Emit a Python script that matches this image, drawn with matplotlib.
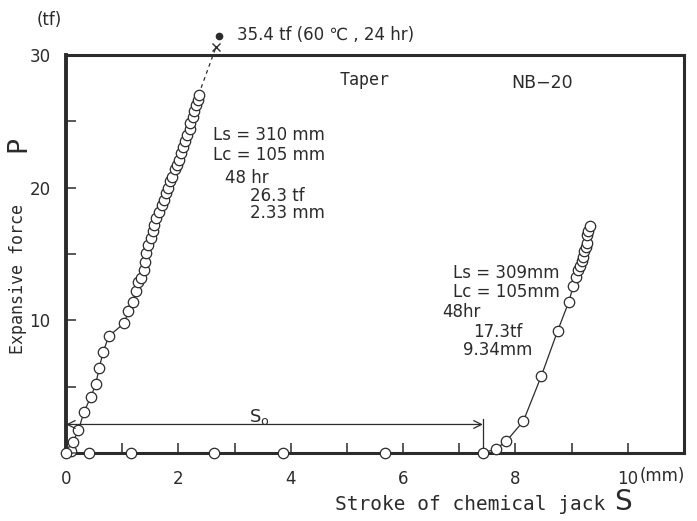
import matplotlib
matplotlib.use("Agg")
import matplotlib.pyplot as plt

# curve 1 : Ls=310mm (left)
s1 = [0.09, 0.12, 0.22, 0.32, 0.44, 0.53, 0.59, 0.66, 0.76, 1.04, 1.11, 1.19,
      1.24, 1.29, 1.33, 1.38, 1.41, 1.42, 1.46, 1.51, 1.54, 1.57, 1.61, 1.66,
      1.71, 1.74, 1.78, 1.81, 1.86, 1.88, 1.94, 1.98, 2.01, 2.05, 2.08, 2.11,
      2.15, 2.20, 2.21, 2.26, 2.28, 2.31, 2.35, 2.36]
p1 = [0.15, 0.8, 1.7, 3.1, 4.2, 5.2, 6.4, 7.6, 8.8, 9.8, 10.7, 11.4,
      12.2, 12.9, 13.2, 13.8, 14.4, 15.1, 15.7, 16.2, 16.7, 17.2, 17.7, 18.2,
      18.7, 19.1, 19.6, 20.0, 20.5, 20.8, 21.4, 21.7, 22.1, 22.6, 23.1, 23.5,
      24.0, 24.4, 24.9, 25.3, 25.8, 26.2, 26.6, 27.0]

# curve 2 : Ls=309mm (right), jack travels S0 before picking up load
s2 = [0.0, 0.41, 1.16, 2.63, 3.86, 5.68, 7.42, 7.65, 7.84, 8.14, 8.46, 8.75,
      8.95, 9.03, 9.08, 9.12, 9.15, 9.18, 9.20, 9.22, 9.25, 9.27, 9.28, 9.30, 9.32]
p2 = [0.0, 0.0, 0.0, 0.0, 0.0, 0.0, 0.0, 0.3, 0.9, 2.4, 5.8, 9.2,
      11.4, 12.6, 13.3, 13.8, 14.1, 14.5, 14.8, 15.2, 15.5, 15.8, 16.4, 16.7, 17.1]

# failure of specimen 1
break_s, break_p = 2.67, 30.6
fail_s, fail_p = 2.73, 31.4
s0 = 7.42
s0_level = 2.15

x_ticks = list(range(0, 11))
x_labels = ['0', '', '2', '', '4', '', '6', '', '8', '', '10']
y_ticks = [0, 5, 10, 15, 20, 25, 30]
y_labels = ['', '', '10', '', '20', '', '30']

ink = '#2b2b2b'
plt.rcParams['font.family'] = ['DejaVu Sans']

fig = plt.figure(figsize=(6.97, 5.21), dpi=100)
ax = fig.add_axes([66 / 697, 1 - 453 / 521, 618 / 697, 398 / 521])

mk = dict(marker='o', ms=7.5, mfc='white', mec=ink, mew=0.9, color=ink, lw=0.9, clip_on=False)
ax.plot(s1, p1, **mk, zorder=3)
ax.plot(s2, p2, **mk, zorder=3)

# dashed extension up to failure
ax.plot([s1[-1], break_s], [p1[-1], break_p], ls=(0, (3, 3)), color=ink, lw=0.9, clip_on=False)
ax.plot([break_s], [break_p], marker='x', ms=6, mew=1.0, color=ink, clip_on=False)
ax.plot([fail_s], [fail_p], marker='o', ms=4.5, color=ink, clip_on=False)
ax.text(fail_s + 0.31, fail_p + 0.1, '35.4 tf (60 \u2103 , 24 hr)', fontsize=12,
        color=ink, va='center', ha='left', clip_on=False)

# S0 arrow
ax.annotate('', xy=(0, s0_level), xytext=(s0, s0_level),
            arrowprops=dict(arrowstyle='<->', color=ink, lw=0.9, shrinkA=0, shrinkB=0,
                            mutation_scale=14))
ax.plot([s0, s0], [0.1, 2.6], color=ink, lw=0.9)
ax.text(3.45, 2.7, r'S$_\mathregular{o}$', fontsize=13, color=ink, ha='center', va='center')

# annotations
ax.text(5.32, 28.1, 'Taper', fontsize=12, family='DejaVu Sans Mono', color=ink,
        ha='center', va='center')
ax.text(8.47, 27.9, 'NB\u221220', fontsize=12.5, color=ink, ha='center', va='center')

left_block = [('Ls = 310 mm', 2.62, 24.0), ('Lc = 105 mm', 2.62, 22.5), ('48 hr', 2.83, 20.7),
              ('26.3 tf', 3.27, 19.4), ('2.33 mm', 3.27, 18.1)]
right_block = [('Ls = 309mm', 6.89, 13.6), ('Lc = 105mm', 6.89, 12.1), ('48hr', 6.69, 10.6),
               ('17.3tf', 7.24, 9.1), ('9.34mm', 7.06, 7.8)]
for txt, x, y in left_block + right_block:
    ax.text(x, y, txt, fontsize=12, color=ink, ha='left', va='center')

ax.set_xlim(0, 11)
ax.set_ylim(0, 30)
ax.set_xticks(x_ticks)
ax.set_xticklabels(x_labels)
ax.set_yticks(y_ticks)
ax.set_yticklabels(y_labels)
ax.tick_params(axis='both', direction='in', length=7, width=1.1, color=ink,
               labelsize=12, labelcolor=ink)
ax.tick_params(axis='x', pad=12)
ax.tick_params(axis='y', pad=11)
for sp in ax.spines.values():
    sp.set_color(ink)
    sp.set_linewidth(2.2)
ax.spines['left'].set_linewidth(2.8)

fig.text(662 / 697, 1 - 476 / 521, '(mm)', fontsize=12, color=ink, ha='center', va='center')
fig.text(49 / 697, 1 - 20 / 521, '(tf)', fontsize=12, color=ink, ha='center', va='center')

# axis titles
fig.text(335 / 697, 1 - 504 / 521, 'Stroke of chemical jack', fontsize=14,
         family='DejaVu Sans Mono', color=ink, ha='left', va='center')
fig.text(623 / 697, 1 - 502 / 521, 'S', fontsize=20, color=ink, ha='center', va='center')
fig.text(18 / 697, 1 - 279 / 521, 'Expansive force', fontsize=12, rotation=90,
         family='DejaVu Sans Mono', color=ink, ha='center', va='center')
fig.text(18 / 697, 1 - 144 / 521, 'P', fontsize=19, rotation=90, color=ink,
         ha='center', va='center')

fig.savefig('out.png', dpi=100, facecolor='white')
